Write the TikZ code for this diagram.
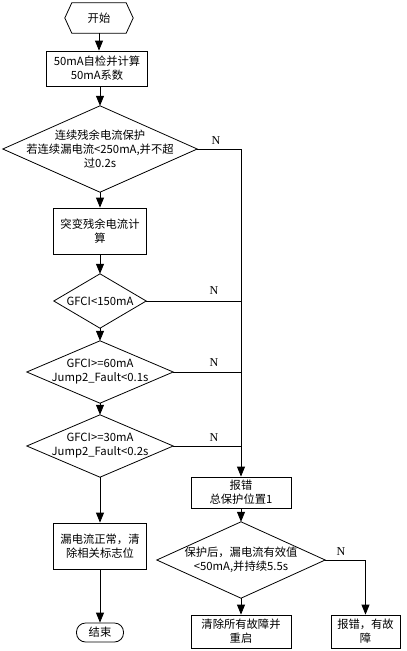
\documentclass[tikz,border=0pt]{standalone}
\usepackage{fontspec}
\setmainfont{Noto Sans CJK SC}
\newfontfamily\latinserif{Liberation Serif}
\usetikzlibrary{arrows.meta}
\begin{document}
\begin{tikzpicture}[x=1pt,y=-1pt,
  every node/.style={font=\fontsize{11.3}{14}\selectfont, align=center, inner sep=0pt},
  box/.style={draw, line width=0.8pt, rectangle},
  shapebox/.style={rectangle},
  conn/.style={line width=0.8pt, -{Triangle[length=10pt,width=8pt]}},
  line/.style={line width=0.8pt},
  nlab/.style={font=\latinserif\fontsize{12}{14}\selectfont},
  outline/.style={draw, line width=0.8pt}]
\useasboundingbox (0,0) rectangle (407,651);

% start hexagon
\node[shapebox, minimum width=68pt, minimum height=30pt] (start) at (99,18) {开始};
\draw[outline] (start.west) -- ([xshift=7pt]start.north west) -- ([xshift=-7pt]start.north east)
  -- (start.east) -- ([xshift=-7pt]start.south east) -- ([xshift=7pt]start.south west) -- cycle;

\node[box, minimum width=101pt, minimum height=35pt] (b1) at (97,68.5) {50mA自检并计算\\50mA系数};

\node[shapebox, minimum width=194pt, minimum height=86pt] (d1) at (100,149) {连续残余电流保护\\若连续漏电流<250mA,并不超\\过0.2s};
\draw[outline] (d1.west) -- (d1.north) -- (d1.east) -- (d1.south) -- cycle;

\node[box, minimum width=93pt, minimum height=46pt] (b2) at (100,231) {突变残余电流计\\算};

\node[shapebox, minimum width=92pt, minimum height=54pt] (d2) at (100,301) {GFCI<150mA};
\draw[outline] (d2.west) -- (d2.north) -- (d2.east) -- (d2.south) -- cycle;

\node[shapebox, minimum width=146pt, minimum height=62pt] (d3) at (100,372) {GFCI>=60mA\\Jump2\_Fault<0.1s};
\draw[outline] (d3.west) -- (d3.north) -- (d3.east) -- (d3.south) -- cycle;

\node[shapebox, minimum width=146pt, minimum height=62pt] (d4) at (100,446) {GFCI>=30mA\\Jump2\_Fault<0.2s};
\draw[outline] (d4.west) -- (d4.north) -- (d4.east) -- (d4.south) -- cycle;

\node[box, minimum width=93pt, minimum height=46pt] (b6) at (100,546) {漏电流正常，清\\除相关标志位};

\node[box, rounded corners=9pt, minimum width=47pt, minimum height=19pt] (end) at (100,632.5) {结束};

% right column
\node[box, minimum width=100pt, minimum height=31pt] (b3) at (241,492.5) {报错\\总保护位置1};

\node[shapebox, minimum width=168pt, minimum height=76pt] (d5) at (241,560) {保护后，漏电流有效值\\<50mA,并持续5.5s};
\draw[outline] (d5.west) -- (d5.north) -- (d5.east) -- (d5.south) -- cycle;

\node[box, minimum width=100pt, minimum height=33pt] (b4) at (241,631.5) {清除所有故障并\\重启};
\node[box, minimum width=69pt, minimum height=33pt] (b5) at (365.5,631.5) {报错，有故\\障};

% connectors left column
\draw[conn] (start.south) -- (b1.north -| start.south);
\draw[conn] (b1.south -| d1.north) -- (d1.north);
\draw[conn] (d1.south) -- (b2.north);
\draw[conn] (b2.south) -- (d2.north);
\draw[conn] (d2.south) -- (d3.north);
\draw[conn] (d3.south) -- (d4.north);
\draw[conn] (d4.south) -- (b6.north);
\draw[conn] (b6.south) -- (end.north);

% N branches
\draw[conn] (d1.east) -| (b3.north);
\draw[line] (d2.east) -- (d2.east -| b3.north);
\draw[line] (d3.east) -- (d3.east -| b3.north);
\draw[line] (d4.east) -- (d4.east -| b3.north);
\node[nlab] (n1) at (216,141) {N};
\node[nlab] (n2) at (214,291) {N};
\node[nlab] (n3) at (214,363) {N};
\node[nlab] (n4) at (214,438) {N};

\draw[conn] (b3.south) -- (d5.north);
\draw[conn] (d5.south) -- (b4.north);
\draw[conn] (d5.east) -| (b5.north);
\node[nlab] (n5) at (341,552) {N};
\end{tikzpicture}
\end{document}
